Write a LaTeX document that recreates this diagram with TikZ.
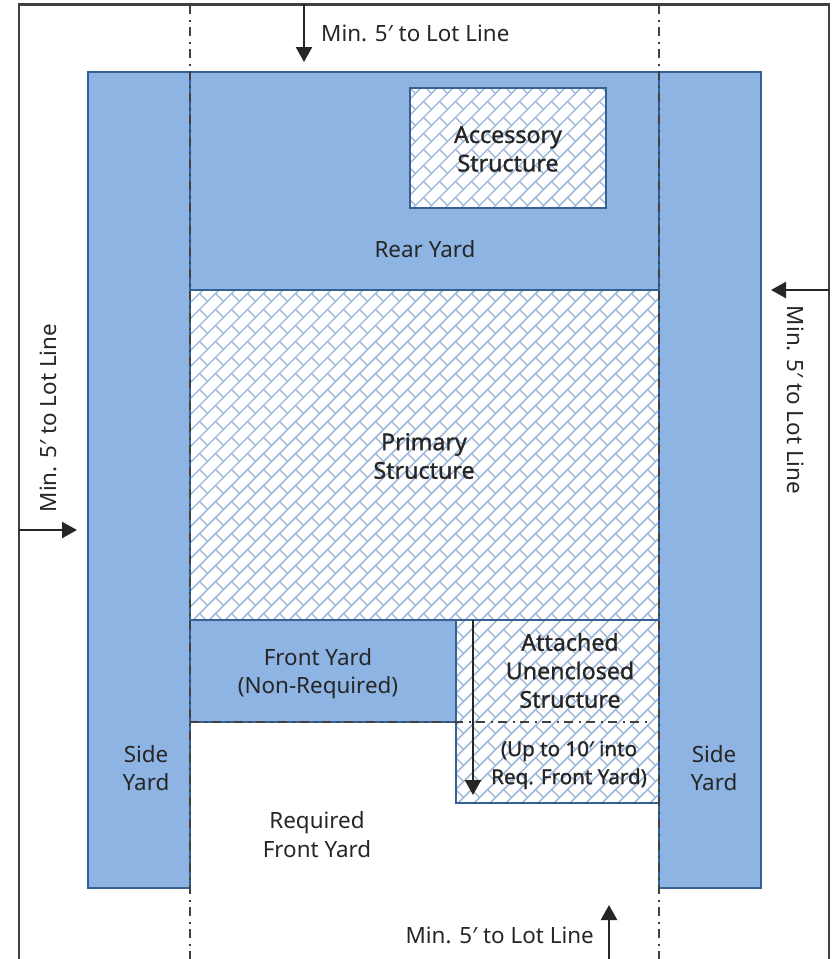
\documentclass[tikz,border=0pt]{standalone}
\usepackage{fontspec}
\setmainfont{Noto Sans}
\newfontfamily\semifont[FakeBold=1.1]{Noto Sans}
\usetikzlibrary{arrows.meta}
\definecolor{yardblue}{HTML}{8EB4E3}
\definecolor{edgeblue}{HTML}{376092}
\definecolor{hatchblue}{HTML}{95B3D7}
\definecolor{inkgrey}{HTML}{262626}
\definecolor{framegrey}{HTML}{404040}
\tikzset{
  x=1pt,y=-1pt,
  yard/.style={fill=yardblue,draw=edgeblue,line width=1.8pt},
  outline/.style={draw=edgeblue,line width=1.8pt},
  frameline/.style={draw=framegrey,line width=2.2pt},
  centerline/.style={draw=framegrey,line width=1.6pt,dash pattern=on 8.5pt off 6pt on 2pt off 5.5pt},
  dim/.style={draw=inkgrey,line width=2.4pt,-{Triangle[length=15pt,width=16pt]}},
  lab/.style={font=\fontsize{22.4}{28.5}\selectfont,text=inkgrey,align=center,inner sep=0pt},
  blab/.style={font=\semifont\fontsize{23.2}{28.5}\selectfont,text=inkgrey,align=center,inner sep=0pt},
  slab/.style={font=\semifont\fontsize{20.6}{28}\selectfont,text=inkgrey,align=center,inner sep=0pt},
}
\newcommand{\shingle}[4]{%
  \fill[white] (#1,#2) rectangle (#3,#4);
  \begin{scope}
    \clip (#1,#2) rectangle (#3,#4);
    \pgfmathtruncatemacro{\kA}{floor((#1+#2)/16)-1}
    \pgfmathtruncatemacro{\kB}{ceil((#3+#4)/16)+1}
    \pgfmathtruncatemacro{\mA}{floor((#1-#4)/32)-2}
    \pgfmathtruncatemacro{\mB}{ceil((#3-#2)/32)+2}
    \foreach \k in {\kA,...,\kB}{
      \pgfmathsetmacro{\ss}{16*\k+13}
      \draw[hatchblue,line width=1.4pt] (\ss,0) -- (0,\ss);
      \foreach \m in {\mA,...,\mB}{
        \pgfmathsetmacro{\cc}{32*\m+16*mod(\k,2)+2}
        \draw[hatchblue,line width=1.4pt] ({(\ss+\cc)/2},{(\ss-\cc)/2}) -- ++(8,8);
      }
    }
  \end{scope}
}
\begin{document}
\begin{tikzpicture}
\useasboundingbox (0,0) rectangle (835,959);
\fill[white] (0,0) rectangle (835,959);
% lot frame
\draw[frameline] (19,959) -- (19,4.5) -- (829,4.5) -- (829,959);
% yards
\draw[yard] (88,72) rectangle (190,888);
\draw[yard] (659,72) rectangle (761,888);
\draw[yard] (190,72) rectangle (659,290);
\draw[yard] (190,620) rectangle (456,722);
% structures
\shingle{410}{88}{606}{208}
\draw[outline] (410,88) rectangle (606,208);
\shingle{190}{290}{659}{620}
\draw[outline] (190,290) rectangle (659,620);
\shingle{456}{620}{659}{803}
\draw[outline] (456,620) rectangle (659,803);
% centre lines
\draw[centerline] (190,5) -- (190,959);
\draw[centerline] (659,5) -- (659,959);
\draw[centerline] (190,722) -- (650,722);
% dimension arrows
\coordinate (topA) at (304,4);   \coordinate (topB) at (304,62);
\coordinate (leftA) at (19,530); \coordinate (leftB) at (77,530);
\coordinate (rightA) at (829,290); \coordinate (rightB) at (771,290);
\coordinate (botA) at (609,959); \coordinate (botB) at (609,905);
\coordinate (encA) at (473,620); \coordinate (encB) at (473,795);
\draw[dim] (topA) -- (topB);
\draw[dim] (leftA) -- (leftB);
\draw[dim] (rightA) -- (rightB);
\draw[dim] (botA) -- (botB);
\draw[dim] (encA) -- (encB);
% labels
\node[lab,anchor=west] (tMin) at (321,33) {Min. 5′ to Lot Line};
\node[lab,anchor=east] (bMin) at (594,935) {Min. 5′ to Lot Line};
\node[lab,rotate=90] (lMin) at (48,418) {Min. 5′ to Lot Line};
\node[lab,rotate=-90] (rMin) at (796,400) {Min. 5′ to Lot Line};
\node[blab] (acc) at (508,149) {Accessory\\Structure};
\node[lab] (rear) at (425,249) {Rear Yard};
\node[blab] (prim) at (424,456) {Primary\\Structure};
\node[lab] (front) at (318,673.5) {Front Yard\\(Non-Required)};
\node[blab] (att) at (570,670.5) {Attached\\Unenclosed\\Structure};
\node[slab] (upto) at (569,765) {(Up to 10′ into\\Req. Front Yard)};
\node[lab] (sideL) at (146,768) {Side\\Yard};
\node[lab] (sideR) at (714,768) {Side\\Yard};
\node[lab] (req) at (317,834.5) {Required\\Front Yard};
\end{tikzpicture}
\end{document}
